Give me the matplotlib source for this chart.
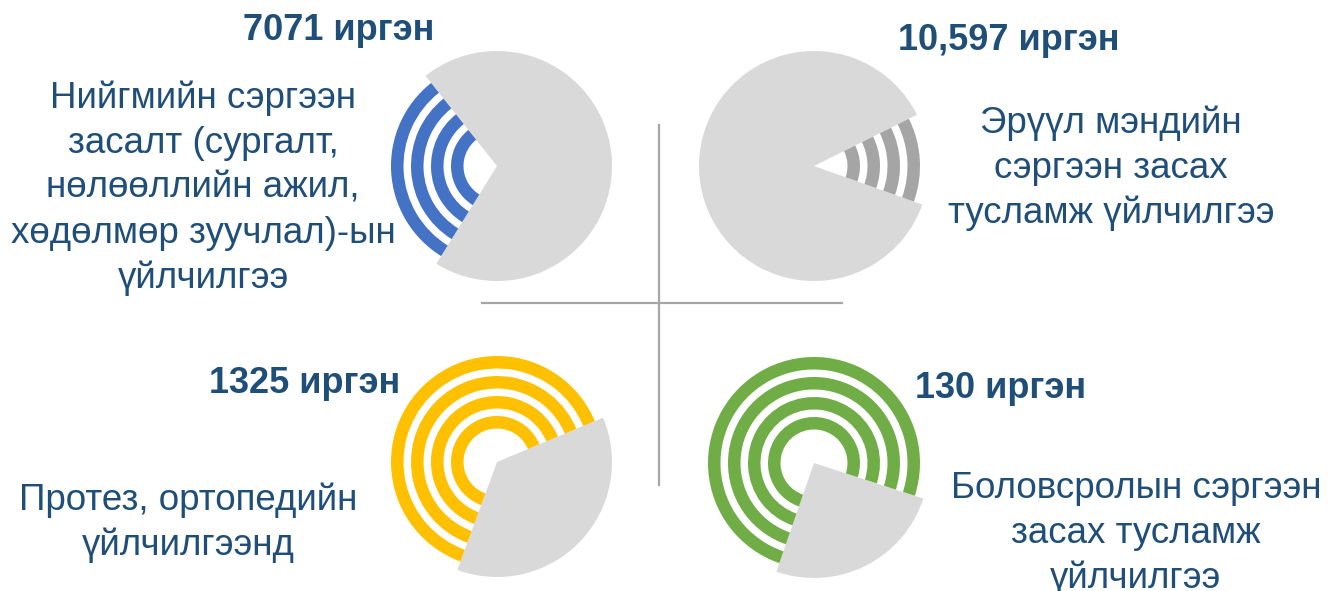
import matplotlib
matplotlib.use("Agg")
import matplotlib.pyplot as plt
from matplotlib.lines import Line2D

plt.rcParams['font.family'] = ['Liberation Sans', 'DejaVu Sans']

# data
titles = ["7071 иргэн", "10,597 иргэн", "1325 иргэн", "130 иргэн"]
labels = [
    ["Нийгмийн сэргээн", "засалт (сургалт,", "нөлөөллийн ажил,",
     "хөдөлмөр зуучлал)-ын", "үйлчилгээ"],
    ["Эрүүл мэндийн", "сэргээн засах", "тусламж үйлчилгээ"],
    ["Протез, ортопедийн", "үйлчилгээнд"],
    ["Боловсролын сэргээн", "засах тусламж", "үйлчилгээ"],
]
shares = [30.5, 12.8, 63.1, 74.7]   # patterned slice, %
colors = ["#4472C4", "#A5A5A5", "#FFC000", "#70AD47"]

# layout (pixels)
W, H = 1329, 591
R = 115
centers = [(497, 166), (814, 166), (497, 462), (814, 463)]
start_angles = [128.4, -19.6, 22.7, -18.0]
title_pos = [(339, 40), (1009, 50), (305, 393), (1001, 398)]
label_cx = [203, 1111, 188, 1136]
label_y0 = [108, 133, 510, 498]
line_step = 45
ring_outer = [106, 86, 66, 46]
ring_w = 12.5

TXT = "#1F4E79"
BASE = "#D9D9D9"

fig = plt.figure(figsize=(W / 100, H / 100), dpi=100)

bg = fig.add_axes([0, 0, 1, 1])
bg.set_xlim(0, W)
bg.set_ylim(H, 0)
bg.axis("off")

# cross
bg.add_line(Line2D([659, 659], [125, 485], color="#A6A6A6", lw=1.6))
bg.add_line(Line2D([482, 842], [303, 303], color="#A6A6A6", lw=1.6))

for i in range(4):
    cx, cy = centers[i]
    ax = fig.add_axes([(cx - R) / W, 1 - (cy + R) / H, 2 * R / W, 2 * R / H])
    vals = [shares[i], 100 - shares[i]]
    ax.pie(vals, colors=["none", BASE], radius=1.0, startangle=start_angles[i],
           counterclock=True, wedgeprops=dict(linewidth=0))
    for ro in ring_outer:
        ax.pie(vals, colors=[colors[i], "none"], radius=ro / R,
               startangle=start_angles[i], counterclock=True,
               wedgeprops=dict(width=ring_w / R, linewidth=0))
    ax.set_xlim(-1, 1)
    ax.set_ylim(-1, 1)

    tx, ty = title_pos[i]
    bg.text(tx, ty, titles[i], ha="center", va="baseline", fontsize=26,
            fontweight="bold", color=TXT)
    for j, line in enumerate(labels[i]):
        bg.text(label_cx[i], label_y0[i] + j * line_step, line, ha="center",
                va="baseline", fontsize=26.5, color=TXT)

fig.savefig("out.png", dpi=100)
